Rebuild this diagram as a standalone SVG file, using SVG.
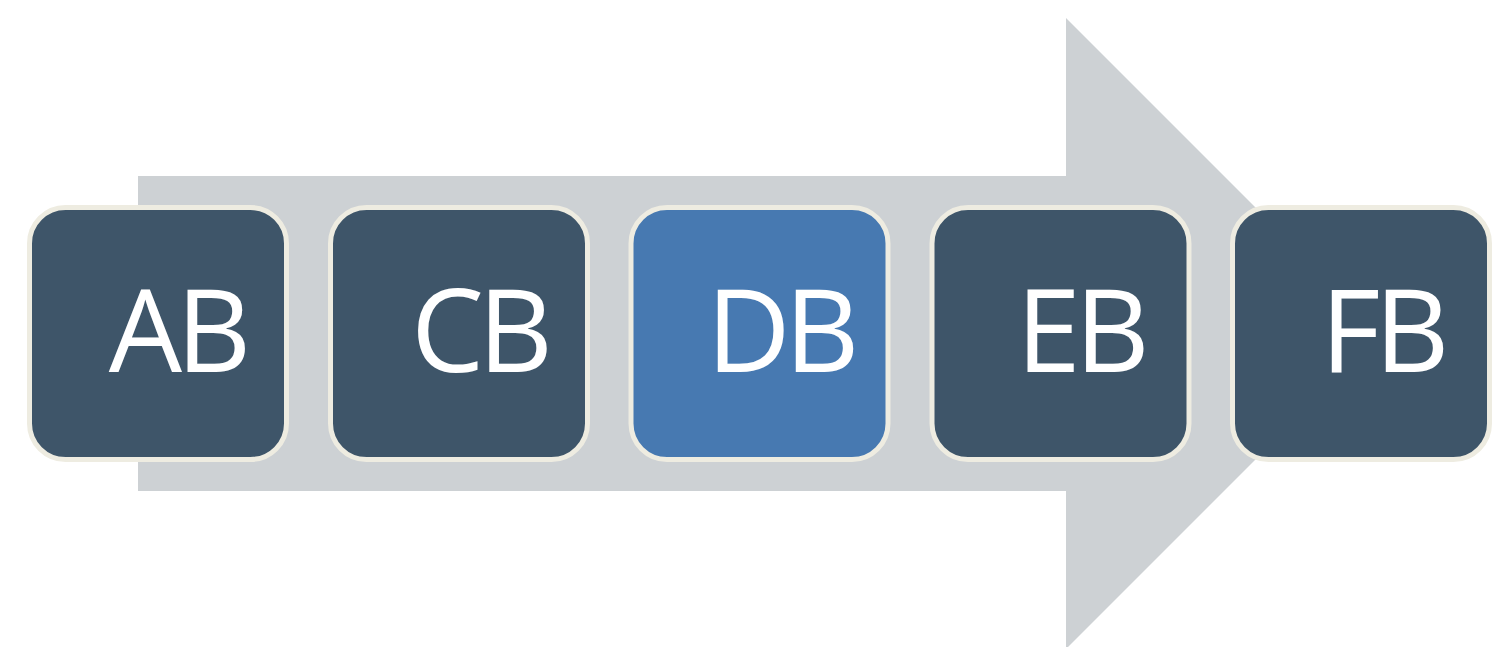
<svg xmlns="http://www.w3.org/2000/svg" width="1505" height="647" viewBox="0 0 1505 647">
<style>
.node rect{stroke:#eeece1;stroke-width:5}
.dark{fill:#3e5569}
.hi{fill:#4779b1}
.lbl{font-family:"Open Sans","DejaVu Sans",sans-serif;font-size:116px;letter-spacing:-6px;fill:#ffffff;text-anchor:middle}
</style>
<rect width="1505" height="647" fill="#ffffff"/>
<g id="connectors">
<path d="M138 176 H1066 V18 L1381.5 333.5 L1066 649 V491 H138 Z" fill="#cdd1d4"/>
</g>
<g id="node-AB" class="node"><rect class="dark" x="29.5" y="207.5" width="257" height="252" rx="36"/><text class="lbl" x="177" y="372">AB</text></g>
<g id="node-CB" class="node"><rect class="dark" x="330.5" y="207.5" width="257" height="252" rx="36"/><text class="lbl" x="479" y="372">CB</text></g>
<g id="node-DB" class="node"><rect class="hi" x="631" y="207.5" width="257" height="252" rx="36"/><text class="lbl" x="780" y="372">DB</text></g>
<g id="node-EB" class="node"><rect class="dark" x="932" y="207.5" width="257" height="252" rx="36"/><text class="lbl" x="1080" y="372">EB</text></g>
<g id="node-FB" class="node"><rect class="dark" x="1232.5" y="207.5" width="257" height="252" rx="36"/><text class="lbl" x="1382" y="372">FB</text></g>
</svg>
